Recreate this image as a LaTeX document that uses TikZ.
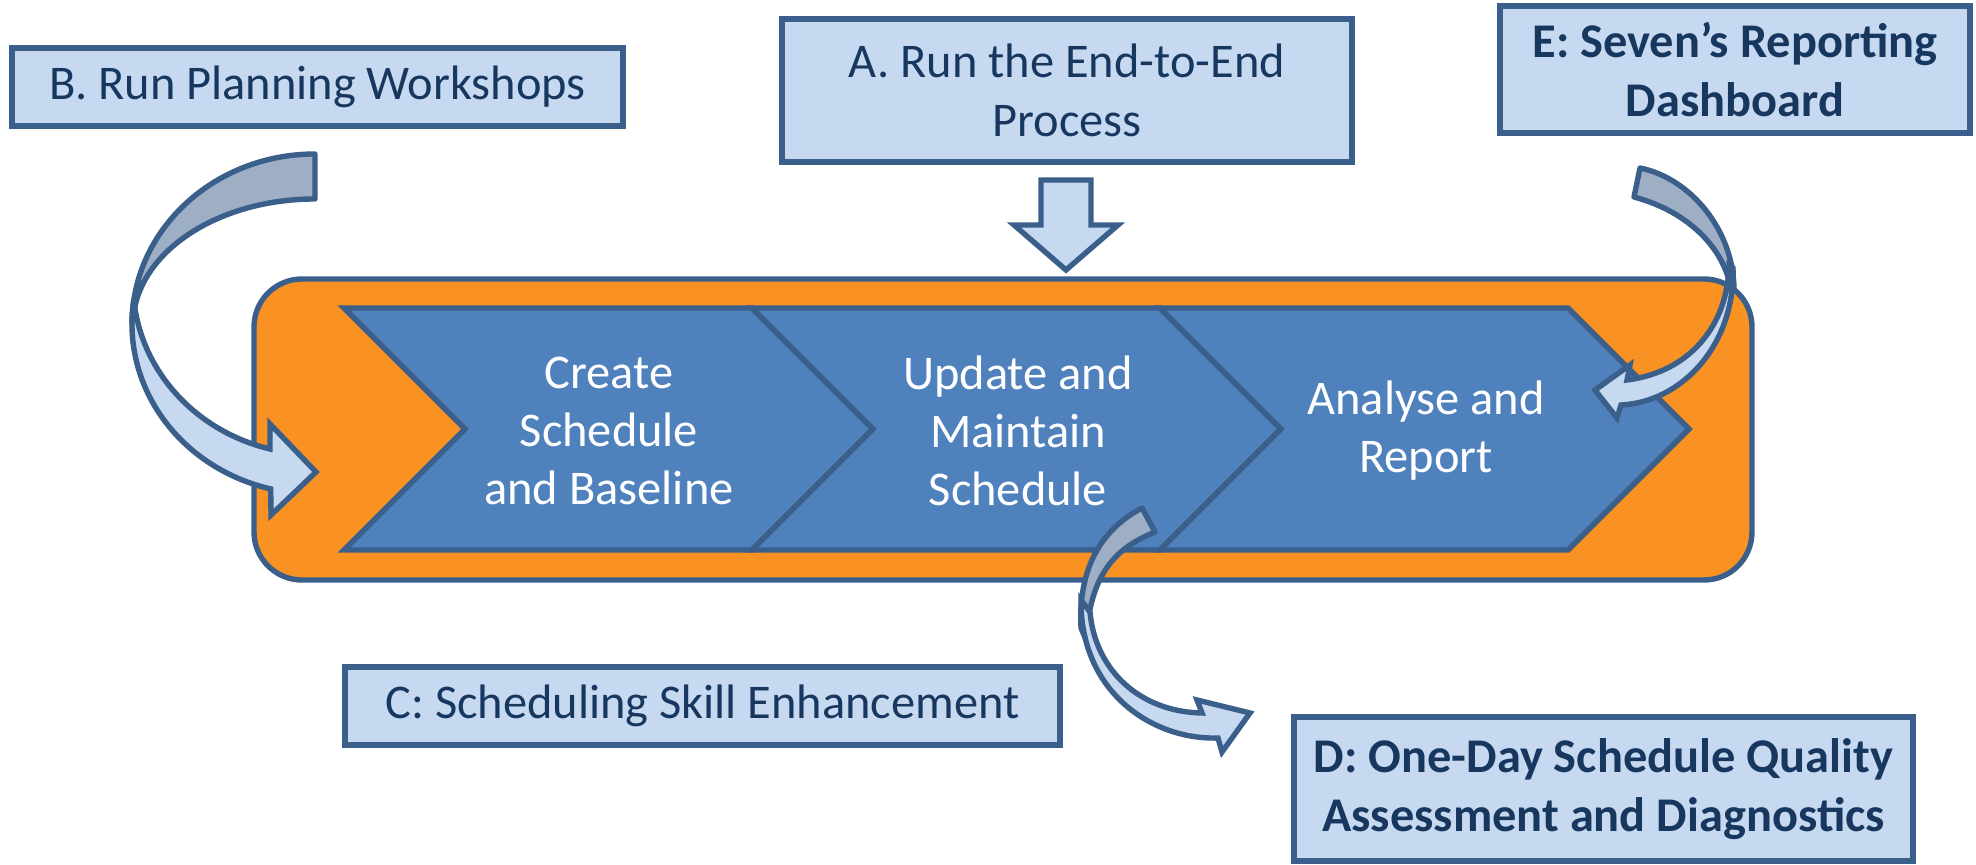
\documentclass[tikz,border=0pt]{standalone}
\usepackage{fontspec}
\setmainfont{Carlito}
\definecolor{bord}{HTML}{3A5F8B}
\definecolor{boxfill}{HTML}{C6D9F1}
\definecolor{bandd}{HTML}{9EAEC4}
\definecolor{chevfill}{HTML}{4F81BD}
\definecolor{orng}{HTML}{FA9223}
\definecolor{navy}{HTML}{17375E}
\begin{document}
\begin{tikzpicture}[x=0.5pt,y=-0.5pt,
  box/.style={draw=bord, line width=2.7pt, fill=boxfill, text=navy, align=center,
    font=\fontsize{24.2}{29.8}\selectfont, inner sep=0pt},
  boldbox/.style={box, font=\fontsize{24.2}{29.8}\selectfont\bfseries},
  frame/.style={draw=bord, line width=2.7pt, fill=orng, rounded corners=24pt, inner sep=0pt},
  chev/.style={draw=bord, line width=2.7pt, fill=chevfill, line join=miter},
  chevtext/.style={text=white, align=center, font=\fontsize{24.2}{29}\selectfont, inner sep=0pt},
  darkband/.style={draw=bord, line width=2.7pt, fill=bandd, line join=round},
  lightband/.style={draw=bord, line width=2.7pt, fill=boxfill, line join=miter},
  blockarrow/.style={draw=bord, line width=2.7pt, fill=boxfill, line join=miter}]
\useasboundingbox (0,0) rectangle (1976,865);

% boxes
\node[box, minimum width=305.5pt, minimum height=39pt] (B) at (317.5,87) {B. Run Planning Workshops};
\node[box, minimum width=285pt, minimum height=71.5pt] (A) at (1067,90.5) {A. Run the End-to-End\\Process};
\node[boldbox, minimum width=235pt, minimum height=63.5pt] (E) at (1735,69.5) {E: Seven’s Reporting\\Dashboard};
\node[box, minimum width=357.5pt, minimum height=39pt] (C) at (702.5,706) {C: Scheduling Skill Enhancement};
\node[boldbox, minimum width=309.5pt, minimum height=72pt] (D) at (1603.5,789) {D: One-Day Schedule Quality\\Assessment and Diagnostics};

% down block arrow
\draw[blockarrow] (1041,180) -- (1091,180) -- (1091,225) -- (1118,225) -- (1066,270) -- (1014,225) -- (1041,225) -- cycle;

% orange frame
\node[frame, minimum width=749pt, minimum height=150.5pt] (frame) at (1003,429.5) {};

% chevrons
\draw[chev] (344,308) -- (752,308) -- (873,429) -- (752,550) -- (344,550) -- (465,429) -- cycle;
\draw[chev] (752,308) -- (1160,308) -- (1281,429) -- (1160,550) -- (752,550) -- (873,429) -- cycle;
\draw[chev] (1160,308) -- (1568,308) -- (1689,429) -- (1568,550) -- (1160,550) -- (1281,429) -- cycle;
\node[chevtext] (s1) at (609,431) {Create\\Schedule\\and Baseline};
\node[chevtext] (s2) at (1018,431) {Update and\\Maintain\\Schedule};
\node[chevtext] (s3) at (1426,431) {Analyse and\\Report};

% curved arrow B
\draw[darkband] (315,154) arc[start angle=270, end angle=180, x radius=183, y radius=170]
  -- (133,325) arc[start angle=180, end angle=270, x radius=182, y radius=126] -- cycle;
\draw[lightband] (133.4,303) arc[start angle=187.1, end angle=104, x radius=183, y radius=170]
  -- (271,515) -- (316,472) -- (270,424) -- (270,449)
  arc[start angle=104.3, end angle=173.3, x radius=182, y radius=171] -- cycle;

% curved arrow E
\draw[darkband] (1640,168) .. controls (1690,178) and (1734,230) .. (1734,290)
  -- (1731,290) .. controls (1725,250) and (1690,212) .. (1634,197) -- cycle;
\draw[lightband] (1733,268) .. controls (1735,345) and (1682,402) .. (1621,405)
  -- (1617,418) -- (1595,390) -- (1630,365) -- (1627,380)
  .. controls (1690,372) and (1728,325) .. (1729,265) -- cycle;

% curved arrow D
\draw[darkband] (1142,508) .. controls (1100,530) and (1078,570) .. (1081,628)
  -- (1086,640) .. controls (1090,580) and (1110,550) .. (1155,532) -- cycle;
\draw[lightband] (1081,600) .. controls (1080,690) and (1150,740) .. (1218,738)
  -- (1222,752) -- (1250,713) -- (1197,700) -- (1202,713)
  .. controls (1140,712) and (1095,670) .. (1090,612) -- cycle;
\end{tikzpicture}
\end{document}
